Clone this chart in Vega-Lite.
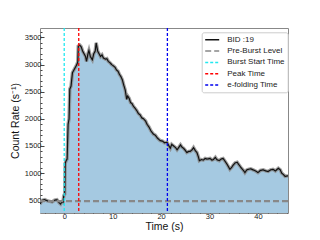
{
  "$schema": "https://vega.github.io/schema/vega-lite/v6.json",
  "width": 248,
  "height": 185,
  "autosize": "none",
  "padding": {"left": 40, "top": 28, "right": 32, "bottom": 27},
  "background": "white",
  "config": {
    "view": {"stroke": "#888888", "strokeWidth": 1},
    "font": "Liberation Sans",
    "axis": {
      "labelFont": "Liberation Sans", "titleFont": "Liberation Sans", "labelFontSize": 7.5, "titleFontSize": 10.5,
      "titleFontWeight": "normal", "labelColor": "#222", "titleColor": "#111", "tickColor": "#444",
      "grid": false, "domain": false
    },
    "legend": {
      "orient": "none", "legendX": 161.7, "legendY": 4.3, "title": null,
      "symbolType": "M-1,0H2.5", "symbolSize": 64, "symbolStrokeWidth": 1.5,
      "labelFont": "Liberation Sans", "labelFontSize": 8, "labelColor": "#222", "labelOffset": 13,
      "fillColor": "white", "strokeColor": "#cccccc", "padding": 2.5, "cornerRadius": 2, "rowPadding": 2.3
    }
  },
  "data": {"name": "curve"},
  "datasets": {
    "curve": [
      {"t": -5.0, "c": 430}, {"t": -4.75, "c": 470}, {"t": -4.5, "c": 500}, {"t": -4.0, "c": 510},
      {"t": -3.5, "c": 490}, {"t": -3.0, "c": 480}, {"t": -2.5, "c": 470}, {"t": -2.0, "c": 500},
      {"t": -1.5, "c": 510}, {"t": -1.0, "c": 450}, {"t": -0.75, "c": 430}, {"t": -0.5, "c": 470},
      {"t": -0.25, "c": 460}, {"t": -0.1, "c": 580}, {"t": 0.0, "c": 600}, {"t": 0.1, "c": 610},
      {"t": 0.2, "c": 1180}, {"t": 0.4, "c": 1230}, {"t": 0.6, "c": 1260}, {"t": 0.8, "c": 1900},
      {"t": 1.0, "c": 2000}, {"t": 1.15, "c": 2550}, {"t": 1.4, "c": 2600}, {"t": 1.7, "c": 2850},
      {"t": 2.0, "c": 2900}, {"t": 2.3, "c": 2950}, {"t": 2.6, "c": 3000}, {"t": 2.8, "c": 3050},
      {"t": 2.9, "c": 3340}, {"t": 3.2, "c": 3360}, {"t": 3.5, "c": 3330}, {"t": 3.8, "c": 3250},
      {"t": 4.1, "c": 3200}, {"t": 4.4, "c": 3150}, {"t": 4.6, "c": 3060}, {"t": 4.9, "c": 3200},
      {"t": 5.1, "c": 3260}, {"t": 5.4, "c": 3150}, {"t": 5.8, "c": 3090}, {"t": 6.1, "c": 3200},
      {"t": 6.4, "c": 3250}, {"t": 6.6, "c": 3400}, {"t": 6.9, "c": 3250}, {"t": 7.2, "c": 3200},
      {"t": 7.5, "c": 3150}, {"t": 7.8, "c": 3180}, {"t": 8.1, "c": 3120}, {"t": 8.5, "c": 3100},
      {"t": 8.8, "c": 3110}, {"t": 9.1, "c": 3060}, {"t": 9.5, "c": 3030}, {"t": 9.8, "c": 3000},
      {"t": 10.1, "c": 2980}, {"t": 10.5, "c": 2950}, {"t": 10.8, "c": 2900}, {"t": 11.1, "c": 2880},
      {"t": 11.4, "c": 2820}, {"t": 11.7, "c": 2780}, {"t": 12.0, "c": 2720}, {"t": 12.3, "c": 2620},
      {"t": 12.6, "c": 2530}, {"t": 12.9, "c": 2360}, {"t": 13.1, "c": 2420}, {"t": 13.4, "c": 2380},
      {"t": 13.7, "c": 2300}, {"t": 14.0, "c": 2280}, {"t": 14.3, "c": 2230}, {"t": 14.6, "c": 2200},
      {"t": 15.0, "c": 2150}, {"t": 15.3, "c": 2100}, {"t": 15.7, "c": 2070}, {"t": 16.0, "c": 2020},
      {"t": 16.4, "c": 2000}, {"t": 16.8, "c": 1960}, {"t": 17.1, "c": 1900}, {"t": 17.5, "c": 1850},
      {"t": 17.9, "c": 1780}, {"t": 18.4, "c": 1720}, {"t": 18.8, "c": 1700}, {"t": 19.2, "c": 1650},
      {"t": 19.8, "c": 1600}, {"t": 20.3, "c": 1590}, {"t": 20.7, "c": 1560}, {"t": 21.2, "c": 1570},
      {"t": 21.5, "c": 1520}, {"t": 21.9, "c": 1460}, {"t": 22.2, "c": 1530}, {"t": 22.6, "c": 1500},
      {"t": 23.0, "c": 1470}, {"t": 23.3, "c": 1430}, {"t": 23.7, "c": 1480}, {"t": 24.0, "c": 1520},
      {"t": 24.3, "c": 1480}, {"t": 24.6, "c": 1460}, {"t": 25.0, "c": 1420}, {"t": 25.3, "c": 1380},
      {"t": 25.7, "c": 1400}, {"t": 26.0, "c": 1400}, {"t": 26.4, "c": 1430}, {"t": 26.7, "c": 1470},
      {"t": 27.1, "c": 1410}, {"t": 27.4, "c": 1380}, {"t": 27.7, "c": 1300}, {"t": 27.9, "c": 1230},
      {"t": 28.3, "c": 1250}, {"t": 28.7, "c": 1240}, {"t": 29.1, "c": 1270}, {"t": 29.5, "c": 1260},
      {"t": 30.1, "c": 1270}, {"t": 30.5, "c": 1240}, {"t": 30.8, "c": 1250}, {"t": 31.2, "c": 1290},
      {"t": 31.5, "c": 1250}, {"t": 32.0, "c": 1230}, {"t": 32.4, "c": 1260}, {"t": 32.8, "c": 1270},
      {"t": 33.2, "c": 1220}, {"t": 33.5, "c": 1180}, {"t": 33.9, "c": 1120}, {"t": 34.2, "c": 1070},
      {"t": 34.6, "c": 1110}, {"t": 34.9, "c": 1150}, {"t": 35.3, "c": 1190}, {"t": 35.7, "c": 1200},
      {"t": 36.1, "c": 1150}, {"t": 36.6, "c": 1090}, {"t": 37.0, "c": 1050}, {"t": 37.3, "c": 1010},
      {"t": 37.7, "c": 1060}, {"t": 38.0, "c": 1070}, {"t": 38.5, "c": 1080}, {"t": 39.0, "c": 1060},
      {"t": 39.5, "c": 1040}, {"t": 40.0, "c": 1010}, {"t": 40.5, "c": 1050}, {"t": 41.1, "c": 1060},
      {"t": 41.6, "c": 1040}, {"t": 42.1, "c": 1030}, {"t": 42.6, "c": 1060}, {"t": 43.1, "c": 1070},
      {"t": 43.6, "c": 1040}, {"t": 44.2, "c": 1090}, {"t": 44.6, "c": 1060}, {"t": 44.9, "c": 1000},
      {"t": 45.3, "c": 970}, {"t": 45.6, "c": 940}, {"t": 46.2, "c": 950}
    ],
    "vlines": [
      {"t": 0.0, "name": "Burst Start Time"},
      {"t": 3.0, "name": "Peak Time"},
      {"t": 21.3, "name": "e-folding Time"}
    ],
    "hlines": [
      {"c": 485, "name": "Pre-Burst Level"}
    ]
  },
  "resolve": {"axis": {"x": "independent", "y": "independent"}},
  "layer": [
    {
      "mark": {"type": "area", "color": "#a5c9e1", "clip": true},
      "encoding": {
        "x": {"field": "t", "type": "quantitative",
              "scale": {"domain": [-5, 46.2], "nice": false, "zero": false},
              "axis": {"orient": "bottom", "values": [0, 10, 20, 30, 40], "format": "d", "tickSize": -4, "labelPadding": 3, "title": "Time (s)", "titlePadding": 2}},
        "y": {"field": "c", "type": "quantitative",
              "scale": {"domain": [265, 3675], "nice": false, "zero": false},
              "axis": {"orient": "left", "values": [500, 1000, 1500, 2000, 2500, 3000, 3500], "format": "d", "tickSize": -4, "labelPadding": 3, "title": "Count Rate (s⁻¹)", "titlePadding": 4}}
      }
    },
    {
      "mark": {"type": "point", "opacity": 0},
      "encoding": {
        "x": {"field": "t", "type": "quantitative",
              "axis": {"orient": "bottom", "values": [-4, -2, 2, 4, 6, 8, 12, 14, 16, 18, 22, 24, 26, 28, 32, 34, 36, 38, 42, 44, 46], "tickSize": -2, "labels": false, "title": null}},
        "y": {"field": "c", "type": "quantitative",
              "axis": {"orient": "left", "values": [300, 400, 600, 700, 800, 900, 1100, 1200, 1300, 1400, 1600, 1700, 1800, 1900, 2100, 2200, 2300, 2400, 2600, 2700, 2800, 2900, 3100, 3200, 3300, 3400, 3600], "tickSize": -2, "labels": false, "title": null}}
      }
    },
    {
      "mark": {"type": "line", "color": "#8a8a8a", "strokeWidth": 3.5, "opacity": 0.8, "clip": true},
      "encoding": {
        "x": {"field": "t", "type": "quantitative", "axis": null},
        "y": {"field": "c", "type": "quantitative", "axis": null}
      }
    },
    {
      "mark": {"type": "line", "strokeWidth": 1.2, "clip": true},
      "encoding": {
        "x": {"field": "t", "type": "quantitative", "axis": null},
        "y": {"field": "c", "type": "quantitative", "axis": null},
        "color": {"datum": "BID :19", "type": "nominal"},
        "strokeDash": {"datum": "BID :19", "type": "nominal"}
      }
    },
    {
      "data": {"name": "hlines"},
      "mark": {"type": "rule", "strokeWidth": 2.2},
      "encoding": {
        "y": {"field": "c", "type": "quantitative", "axis": null},
        "color": {"field": "name", "type": "nominal"},
        "strokeDash": {"field": "name", "type": "nominal"}
      }
    },
    {
      "data": {"name": "vlines"},
      "mark": {"type": "rule", "strokeWidth": 1.3},
      "encoding": {
        "x": {"field": "t", "type": "quantitative", "axis": null},
        "color": {"field": "name", "type": "nominal",
                  "scale": {"domain": ["BID :19", "Pre-Burst Level", "Burst Start Time", "Peak Time", "e-folding Time"],
                            "range": ["#111111", "#888888", "#22e8f0", "#ff0000", "#0000ee"]}},
        "strokeDash": {"field": "name", "type": "nominal",
                  "scale": {"domain": ["BID :19", "Pre-Burst Level", "Burst Start Time", "Peak Time", "e-folding Time"],
                            "range": [[1, 0], [6, 3], [3, 2], [3, 2], [3, 2]]}}
      }
    }
  ]
}
